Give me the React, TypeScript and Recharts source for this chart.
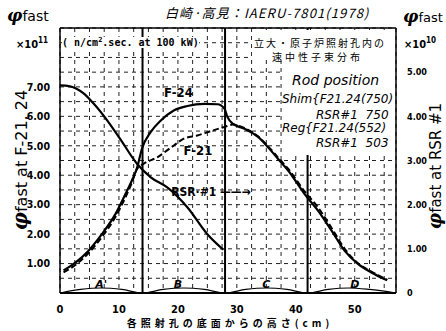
import {
  CartesianGrid,
  Line,
  LineChart,
  ReferenceDot,
  ReferenceLine,
  XAxis,
  YAxis,
} from 'recharts'

// heights in cm from the bottom of each irradiation hole
const f24Height = [0.6, 2.6, 4.8, 7.1, 9.4, 11.1, 12.2, 13.1, 13.9, 15.4, 17.1, 19.3, 21.6, 24.5, 26.7, 27.9, 28.4, 29.3, 31.3, 33.6, 35.3, 37.0, 38.7, 41.5, 43.8, 46.1, 48.3, 50.6, 52.9, 55.5]
const f24Flux = [0.77, 1.03, 1.43, 2.0, 2.68, 3.36, 3.82, 4.27, 4.9, 5.47, 5.86, 6.2, 6.35, 6.42, 6.41, 6.26, 5.98, 5.75, 5.58, 5.3, 4.95, 4.55, 4.16, 3.36, 2.79, 2.11, 1.43, 0.98, 0.69, 0.43]

const f21Height = [0.6, 2.6, 4.8, 7.1, 9.4, 11.1, 12.2, 13.1, 14.2, 16.5, 19.3, 21.0, 23.3, 25.6, 27.9, 29.3, 31.3, 33.6, 35.3, 37.0, 38.7, 41.5, 43.8, 46.1, 48.3, 50.6, 52.9, 55.5]
const f21Flux = [0.7, 0.95, 1.35, 1.9, 2.58, 3.25, 3.75, 4.22, 4.39, 4.61, 5.01, 5.24, 5.35, 5.5, 5.64, 5.72, 5.6, 5.32, 4.98, 4.6, 4.22, 3.45, 2.9, 2.2, 1.5, 1.0, 0.72, 0.45]

// RSR #1, right axis (x10^10)
const rsrHeight = [0, 1.7, 4.0, 5.7, 8.0, 10.2, 13.1, 15.4, 18.2, 21.6, 25.0, 27.7]
const rsrFlux = [4.7, 4.68, 4.52, 4.29, 3.91, 3.49, 2.92, 2.62, 2.39, 1.94, 1.33, 0.98]

// small fuel-element humps along the bottom
const elementHeight = [0, 3.5, 7, 10.5, 14, 17.5, 21, 24.5, 28, 31.5, 35, 38.5, 42, 45.5, 49, 52.5, 57]
const elementLevel = [0, 0.12, 0.17, 0.12, 0, 0.12, 0.17, 0.12, 0, 0.12, 0.17, 0.12, 0, 0.12, 0.17, 0.12, 0]
const elementNames = ["A'", 'B', 'C', 'D']
const elementLabelAt = [7, 20, 35, 50]

const sectionBounds = [14, 28, 42]

const xGridTicks = [0, 2.5, 5, 7.5, 10, 12.5, 15, 17.5, 20, 22.5, 25, 27.5, 30, 32.5, 35, 37.5, 40, 42.5, 45, 47.5, 50, 52.5, 55]
const xTickLabels = [0, 10, 20, 30, 40, 50]
const leftGridTicks = [0, 0.5, 1, 1.5, 2, 2.5, 3, 3.5, 4, 4.5, 5, 5.5, 6, 6.5, 7, 7.5, 8, 8.5, 9]
const leftTickLabels = [1, 2, 3, 4, 5, 6, 7]
const rightTicks = [0, 1, 2, 3, 4, 5]

const f24 = f24Height.map((h, i) => ({ h, v: f24Flux[i] }))
const f21 = f21Height.map((h, i) => ({ h, v: f21Flux[i] }))
const rsr = rsrHeight.map((h, i) => ({ h, v: rsrFlux[i] }))
const elements = elementHeight.map((h, i) => ({ h, v: elementLevel[i] }))

const tickFont = "'DejaVu Sans Condensed', 'DejaVu Sans', sans-serif"
const hand = "'DejaVu Sans', sans-serif"
const jp = "'Noto Sans CJK JP', sans-serif"
const phiFont = "'DejaVu Serif', serif"

const abs = (left: number, top: number, extra: React.CSSProperties = {}): React.CSSProperties => ({
  position: 'absolute',
  left,
  top,
  whiteSpace: 'nowrap',
  lineHeight: 1,
  color: '#000',
  ...extra,
})

export default function App() {
  return (
    <div style={{ position: 'absolute', left: 0, top: 0, width: 446, height: 331, background: '#fff', fontFamily: tickFont }}>
      <LineChart width={446} height={331} data={f24} margin={{ top: 28, right: 5, bottom: 8, left: 20 }}>
        <CartesianGrid yAxisId="left" stroke="#222" strokeDasharray="4 4" strokeWidth={1} />
        <XAxis
          dataKey="h"
          type="number"
          domain={[0, 57]}
          ticks={xGridTicks}
          interval={0}
          allowDataOverflow
          tickLine={false}
          tickMargin={6}
          height={30}
          axisLine={{ stroke: '#000', strokeWidth: 2 }}
          tickFormatter={(v: number) => (xTickLabels.includes(v) ? String(v) : '')}
          tick={{ fill: '#000', fontSize: 11, fontWeight: 700, fontFamily: tickFont }}
        />
        <YAxis
          yAxisId="left"
          domain={[0, 9]}
          ticks={leftGridTicks}
          interval={0}
          width={40}
          tickLine={false}
          tickMargin={4}
          axisLine={{ stroke: '#000', strokeWidth: 1.5 }}
          tickFormatter={(v: number) => (leftTickLabels.includes(v) ? v.toFixed(2) : '')}
          tick={{ fill: '#000', fontSize: 10.5, fontWeight: 700, fontFamily: tickFont }}
        />
        <YAxis
          yAxisId="right"
          orientation="right"
          domain={[0, 6]}
          ticks={rightTicks}
          interval={0}
          width={45}
          tickLine={false}
          tickMargin={5}
          axisLine={{ stroke: '#000', strokeWidth: 1.5 }}
          tickFormatter={(v: number) => (v === 0 ? '0' : v.toFixed(2))}
          tick={{ fill: '#000', fontSize: 9, fontWeight: 700, fontFamily: tickFont }}
        />
        <ReferenceLine yAxisId="left" y={9} stroke="#000" strokeWidth={1.5} />
        {sectionBounds.map((b) => (
          <ReferenceLine key={b} yAxisId="left" x={b} stroke="#000" strokeWidth={2} />
        ))}
        <Line
          yAxisId="left"
          data={elements}
          dataKey="v"
          type="monotone"
          stroke="#000"
          strokeWidth={1.2}
          dot={false}
          isAnimationActive={false}
        />
        <Line
          yAxisId="left"
          data={f21}
          dataKey="v"
          type="monotone"
          stroke="#000"
          strokeWidth={2}
          strokeDasharray="6 3"
          dot={false}
          isAnimationActive={false}
        />
        <Line
          yAxisId="left"
          data={f24}
          dataKey="v"
          type="monotone"
          stroke="#000"
          strokeWidth={2.2}
          dot={false}
          isAnimationActive={false}
        />
        <Line
          yAxisId="right"
          data={rsr}
          dataKey="v"
          type="monotone"
          stroke="#000"
          strokeWidth={2.2}
          dot={false}
          isAnimationActive={false}
        />
        <ReferenceDot
          yAxisId="left"
          x={20.1}
          y={6.8}
          r={1}
          fill="none"
          stroke="none"
          label={{ value: 'F-24', position: 'center', fill: '#000', fontSize: 13, fontWeight: 700, fontFamily: tickFont }}
        />
        <ReferenceDot
          yAxisId="left"
          x={23.4}
          y={4.86}
          r={1}
          fill="none"
          stroke="none"
          label={{ value: 'F-21', position: 'center', fill: '#000', fontSize: 13, fontWeight: 700, fontFamily: tickFont }}
        />
        <ReferenceDot
          yAxisId="left"
          x={25.6}
          y={3.43}
          r={1}
          fill="none"
          stroke="none"
          label={{ value: 'RSR·#1 ——→', position: 'center', fill: '#000', fontSize: 12, fontWeight: 700, fontFamily: tickFont }}
        />
        {elementNames.map((n, i) => (
          <ReferenceDot
            key={n}
            yAxisId="left"
            x={elementLabelAt[i]}
            y={0.3}
            r={1}
            fill="none"
            stroke="none"
            label={{ value: n, position: 'center', fill: '#000', fontSize: 11, fontWeight: 700, fontStyle: 'italic', fontFamily: hand }}
          />
        ))}
      </LineChart>

      {/* top-left axis header */}
      <div style={abs(7, 7)}>
        <span style={{ fontFamily: phiFont, fontStyle: 'italic', fontWeight: 700, fontSize: 17 }}>φ</span>
        <span style={{ fontSize: 14, fontFamily: hand }}>fast</span>
      </div>
      <div style={abs(16, 37, { fontSize: 11, fontWeight: 700 })}>
        ×10<sup style={{ fontSize: 8 }}>11</sup>
      </div>
      <div style={abs(165, 6, { fontSize: 13, fontStyle: 'italic', fontFamily: jp, letterSpacing: 1.1 })}>
        白崎·高見：IAERU-7801(1978)
      </div>
      <div style={abs(403, 8)}>
        <span style={{ fontFamily: phiFont, fontStyle: 'italic', fontWeight: 700, fontSize: 17 }}>φ</span>
        <span style={{ fontSize: 13, fontFamily: hand }}>fast</span>
      </div>
      <div style={abs(404, 37, { fontSize: 11, fontWeight: 700 })}>
        ×10<sup style={{ fontSize: 8 }}>10</sup>
      </div>

      {/* units inside plot */}
      <div style={abs(62, 37, { fontSize: 10, fontWeight: 700, fontFamily: "'DejaVu Sans Mono', monospace", background: '#fff' })}>
        ( n/cm<sup style={{ fontSize: 7 }}>2</sup>.sec. at 100 kW)
      </div>

      {/* description and rod position block */}
      <div style={abs(252, 30, { width: 142, height: 30, background: '#fff' })} />
      <div style={abs(282, 60, { width: 112, height: 95, background: '#fff' })} />
      <div style={abs(254, 38, { fontSize: 10, fontFamily: jp, letterSpacing: 2 })}>立大・原子炉照射孔内の</div>
      <div style={abs(272, 52, { fontSize: 10, fontFamily: jp, letterSpacing: 3 })}>速中性子束分布</div>
      <div style={abs(292, 73, { fontSize: 14, fontStyle: 'italic', fontFamily: hand })}>Rod position</div>
      <div style={abs(282, 93, { fontSize: 12, fontStyle: 'italic', fontFamily: hand })}>Shim</div>
      <div style={abs(312, 93, { fontSize: 12, fontStyle: 'italic', fontFamily: hand })}>{'{F21.24(750)'}</div>
      <div style={abs(316, 109, { fontSize: 12, fontStyle: 'italic', fontFamily: hand })}>RSR#1&nbsp;&nbsp;750</div>
      <div style={abs(282, 122, { fontSize: 12, fontStyle: 'italic', fontFamily: hand })}>Reg</div>
      <div style={abs(305, 122, { fontSize: 12, fontStyle: 'italic', fontFamily: hand })}>{'{F21.24(552)'}</div>
      <div style={abs(316, 137, { fontSize: 12, fontStyle: 'italic', fontFamily: hand })}>RSR#1&nbsp;&nbsp;503</div>

      {/* rotated axis titles */}
      <div style={abs(20, 160, { transform: 'translate(-50%, -50%) rotate(-90deg)' })}>
        <span style={{ fontFamily: phiFont, fontStyle: 'italic', fontWeight: 700, fontSize: 20 }}>φ</span>
        <span style={{ fontSize: 16, fontFamily: hand }}>fast at F-21, 24</span>
      </div>
      <div style={abs(435, 166, { transform: 'translate(-50%, -50%) rotate(-90deg)' })}>
        <span style={{ fontFamily: phiFont, fontStyle: 'italic', fontWeight: 700, fontSize: 18 }}>φ</span>
        <span style={{ fontSize: 15, fontFamily: hand }}>fast at RSR #1</span>
      </div>

      {/* x axis title */}
      <div style={abs(230, 323, { transform: 'translate(-50%, -50%)', fontSize: 10, fontWeight: 700, fontFamily: jp, letterSpacing: 4 })}>
        各照射孔の底面からの高さ(cm)
      </div>
    </div>
  )
}
